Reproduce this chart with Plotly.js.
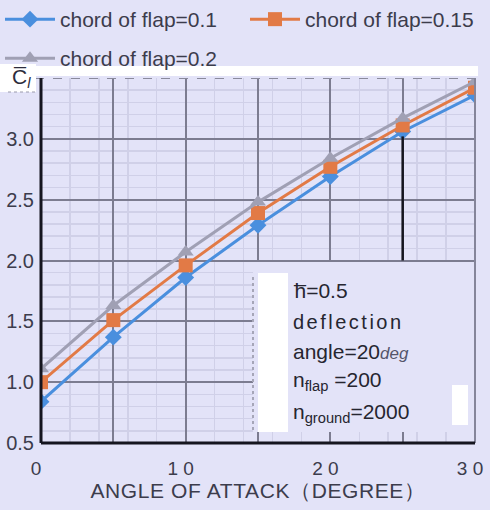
<!DOCTYPE html>
<html>
<head>
<meta charset="utf-8">
<script src="https://cdn.plot.ly/plotly-3.0.1.min.js"></script>
<style>
  html, body { margin: 0; padding: 0; background: #e3e3f8; }
  #chart { width: 490px; height: 510px; }
</style>
</head>
<body>
<div id="chart"></div>
<script>
// Angle of attack (degrees)
const angles = [0, 5, 10, 15, 20, 25, 30];

// Lift coefficient for each flap chord
const clChord010 = [0.84, 1.37, 1.86, 2.29, 2.69, 3.06, 3.36];
const clChord015 = [1.00, 1.51, 1.96, 2.39, 2.77, 3.11, 3.42];
const clChord020 = [1.11, 1.63, 2.07, 2.48, 2.84, 3.17, 3.47];

const seriesNames = ['chord of flap=0.1', 'chord of flap=0.15', 'chord of flap=0.2'];

// Axis ticks (major grid every 5 degrees, labels every 10)
const xTickVals = [0, 5, 10, 15, 20, 25, 30];
const xTickText = ['0', '', '1 0', '', '2 0', '', '3 0'];
const yTickVals = [0.5, 1.0, 1.5, 2.0, 2.5, 3.0];
const yTickText = ['0.5', '1.0', '1.5', '2.0', '2.5', '3.0'];

const BG = '#e3e3f8';
const TXT = '#3c3c4c';
const GRID = '#7c7c90';
const FONT = 'Liberation Sans, Arial, sans-serif';

const traces = [
  {
    x: angles, y: clChord010, name: seriesNames[0], type: 'scatter', mode: 'lines+markers',
    line: {color: '#4a8fde', width: 3},
    marker: {symbol: 'diamond', size: 13, color: '#4a8fde'},
    legend: 'legend'
  },
  {
    x: angles, y: clChord015, name: seriesNames[1], type: 'scatter', mode: 'lines+markers',
    line: {color: '#e27a46', width: 3},
    marker: {symbol: 'square', size: 14, color: '#e27a46'},
    legend: 'legend3'
  },
  {
    x: angles, y: clChord020, name: seriesNames[2], type: 'scatter', mode: 'lines+markers',
    line: {color: '#a0a0b4', width: 3},
    marker: {symbol: 'triangle-up', size: 14, color: '#a0a0b4'},
    legend: 'legend2'
  }
];

// helpers: pixel position -> paper fraction of the plot area
const L = 41, R = 475, T = 78, B = 443;
const px = v => (v - L) / (R - L);
const py = v => (B - v) / (B - T);

const shapes = [
  // white strip above the plot frame
  {type: 'rect', xref: 'paper', yref: 'paper', x0: px(35), x1: px(478), y0: py(76), y1: py(66),
   fillcolor: '#ffffff', line: {width: 0}, layer: 'below'},
  // dashed top frame
  {type: 'line', xref: 'paper', yref: 'y', x0: px(35), x1: 1, y0: 3.5, y1: 3.5,
   line: {color: '#8a8a9c', width: 2, dash: 'dash'}},
  // white box behind the y-axis symbol
  {type: 'rect', xref: 'paper', yref: 'paper', x0: px(0), x1: px(36), y0: py(92), y1: py(64),
   fillcolor: '#ffffff', line: {width: 0}},
  {type: 'line', xref: 'paper', yref: 'paper', x0: px(8), x1: px(36), y0: py(92), y1: py(92),
   line: {color: '#9a9aac', width: 1, dash: 'dot'}},
  // marker line at 25 degrees
  {type: 'line', xref: 'x', yref: 'y', x0: 25, x1: 25, y0: 2.0, y1: 3.02,
   line: {color: '#15151f', width: 2.5}},
  // parameter box
  {type: 'rect', xref: 'paper', yref: 'paper', x0: px(253), x1: 1, y0: py(432), y1: py(262),
   fillcolor: BG, line: {width: 0}, layer: 'above'},
  {type: 'line', xref: 'paper', yref: 'paper', x0: px(253), x1: px(253), y0: py(430), y1: py(275),
   line: {color: '#a6a6b8', width: 2, dash: 'dot'}},
  {type: 'rect', xref: 'paper', yref: 'paper', x0: px(258), x1: px(288), y0: py(432), y1: py(273),
   fillcolor: '#ffffff', line: {width: 0}, layer: 'above'},
  {type: 'rect', xref: 'paper', yref: 'paper', x0: px(452), x1: px(468), y0: py(425), y1: py(385),
   fillcolor: '#ffffff', line: {width: 0}, layer: 'above'},
  // right frame
  {type: 'line', xref: 'paper', yref: 'paper', x0: 1, x1: 1, y0: 0, y1: 1,
   line: {color: '#85859a', width: 2}, layer: 'above'},
  // left and bottom axis lines
  {type: 'line', xref: 'paper', yref: 'paper', x0: 0, x1: 0, y0: 0, y1: 1,
   line: {color: '#15151f', width: 3}, layer: 'above'},
  {type: 'line', xref: 'paper', yref: 'paper', x0: 0, x1: 1, y0: 0, y1: 0,
   line: {color: '#15151f', width: 3}, layer: 'above'}
];

const boxFont = {family: FONT, size: 21, color: '#262630'};
const annLine = (text, yPix, extra) => Object.assign({
  xref: 'paper', yref: 'paper', x: px(291), y: py(yPix), xanchor: 'left', yanchor: 'middle',
  text: text, showarrow: false, font: boxFont, align: 'left'
}, extra || {});

const annotations = [
  {xref: 'paper', yref: 'paper', x: px(21), y: py(78), xanchor: 'center', yanchor: 'middle',
   text: 'C\u0305<sub><i>l</i></sub>', showarrow: false,
   font: {family: FONT, size: 21, color: '#2c2c3c'}},
  annLine('h\u0305=0.5', 290),
  annLine('<span style="letter-spacing:2.5px">deflection</span>', 322, {font: {family: FONT, size: 20, color: '#262630'}}),
  annLine('angle=20<span style="font-size:17px;color:#55556a"><i>deg</i></span>', 351),
  annLine('n<sub>flap</sub> =200', 381),
  annLine('n<sub>ground</sub>=2000', 413)
];

const legendBase = {
  orientation: 'h', xanchor: 'left', yanchor: 'top',
  bgcolor: 'rgba(0,0,0,0)', itemwidth: 50,
  font: {family: FONT, size: 21, color: TXT}
};

const layout = {
  width: 490, height: 510,
  margin: {l: L, r: 490 - R, t: T, b: 510 - B, autoexpand: false},
  paper_bgcolor: BG, plot_bgcolor: BG,
  font: {family: FONT, color: TXT, size: 19},
  showlegend: true,
  legend: Object.assign({}, legendBase, {x: px(0), y: py(-1)}),
  legend3: Object.assign({}, legendBase, {x: px(245), y: py(-1)}),
  legend2: Object.assign({}, legendBase, {x: px(0), y: py(38)}),
  xaxis: {
    range: [0, 30], tickmode: 'array', tickvals: xTickVals, ticktext: xTickText,
    showgrid: true, gridcolor: GRID, gridwidth: 2, zeroline: false,
    showline: false, ticks: '', ticklabelstandoff: 12, ticklabelshift: -5,
    tickfont: {family: FONT, size: 19, color: TXT},
    minor: {tickmode: 'linear', tick0: 0, dtick: 2, showgrid: true, gridcolor: '#d0d0e8', gridwidth: 1.5},
    title: {text: '<span style="letter-spacing:0.6px">ANGLE OF ATTACK（DEGREE）</span>', standoff: 5,
            font: {family: FONT, size: 21, color: TXT}},
    automargin: false, fixedrange: true
  },
  yaxis: {
    range: [0.5, 3.5], tickmode: 'array', tickvals: yTickVals, ticktext: yTickText,
    showgrid: true, gridcolor: GRID, gridwidth: 2, zeroline: false,
    showline: false, ticks: '', ticklabelstandoff: 6,
    tickfont: {family: FONT, size: 20, color: TXT},
    minor: {tickmode: 'linear', tick0: 0.5, dtick: 0.1, showgrid: true, gridcolor: '#d0d0e8', gridwidth: 1.5},
    automargin: false, fixedrange: true
  },
  shapes: shapes,
  annotations: annotations
};

Plotly.newPlot('chart', traces, layout, {staticPlot: true, displayModeBar: false});
</script>
</body>
</html>
